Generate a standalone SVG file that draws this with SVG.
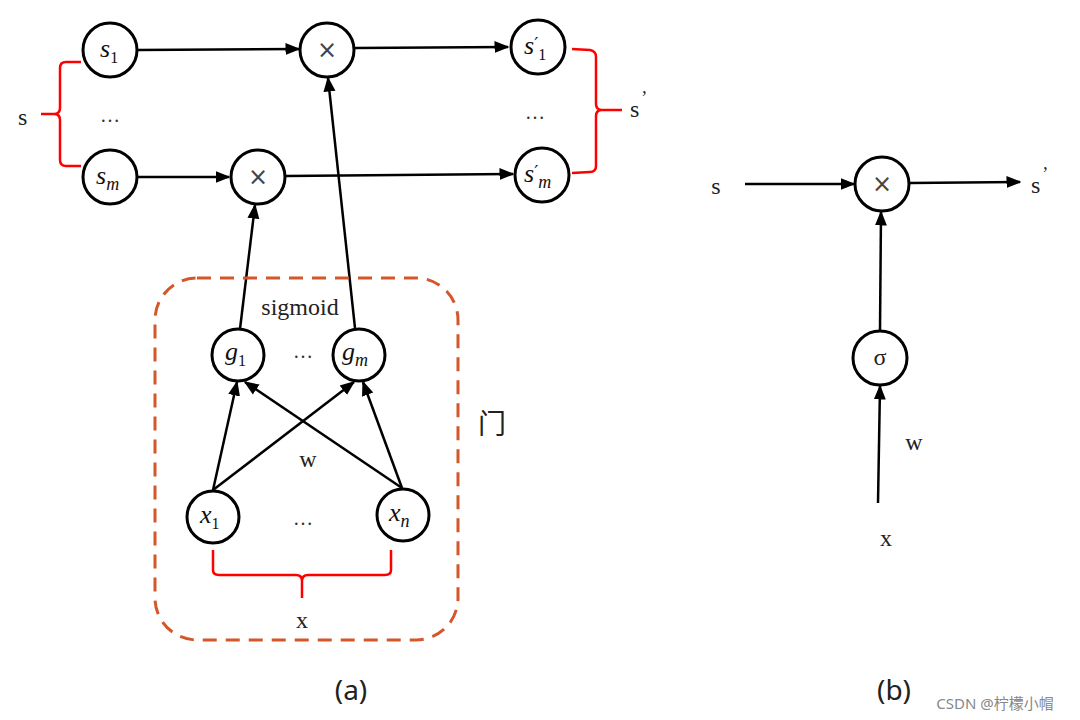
<svg xmlns="http://www.w3.org/2000/svg" width="1080" height="720" viewBox="0 0 1080 720">
<style>
.node{fill:#fff;stroke:#000;stroke-width:3}
.edge{stroke:#000;stroke-width:2.5;fill:none}
.brace{stroke:#f00;stroke-width:2.5;fill:none}
.m{font-family:"Liberation Serif",serif;font-style:italic;font-size:26px;fill:#111}
.ms{font-family:"Liberation Serif",serif;font-style:italic;font-size:18px;fill:#111}
.sub{font-family:"Liberation Serif",serif;font-style:normal;font-size:16px;fill:#111}
.pr{font-family:"DejaVu Sans",sans-serif;font-style:normal;font-size:18px;fill:#111}
.t{font-family:"Liberation Serif",serif;font-size:24px;fill:#222}
.x{font-family:"DejaVu Sans",sans-serif;font-size:24px;fill:#444}
.dots{font-family:"Liberation Serif",serif;font-size:20px;fill:#333}
.cap{font-family:"Noto Sans","DejaVu Sans",sans-serif;font-size:28px;fill:#222}
</style>
<defs>
<marker id="ah" viewBox="0 0 10 10" refX="9" refY="5" markerWidth="6" markerHeight="6" orient="auto" markerUnits="strokeWidth">
<path d="M0,1 L10,5 L0,9 z" fill="#000"/>
</marker>
</defs>
<rect width="1080" height="720" fill="#fff"/>
<g id="connectors">
<line class="edge" x1="138" y1="50" x2="299" y2="49" marker-end="url(#ah)"/>
<line class="edge" x1="355" y1="48" x2="508" y2="47" marker-end="url(#ah)"/>
<line class="edge" x1="138" y1="177" x2="229" y2="177" marker-end="url(#ah)"/>
<line class="edge" x1="286" y1="176" x2="513" y2="174" marker-end="url(#ah)"/>
<line class="edge" x1="355" y1="328" x2="328" y2="78" marker-end="url(#ah)"/>
<line class="edge" x1="240" y1="329" x2="255" y2="205" marker-end="url(#ah)"/>
<line class="edge" x1="213" y1="490" x2="237" y2="382" marker-end="url(#ah)"/>
<line class="edge" x1="213" y1="490" x2="354" y2="382" marker-end="url(#ah)"/>
<line class="edge" x1="402" y1="488" x2="245" y2="382" marker-end="url(#ah)"/>
<line class="edge" x1="402" y1="488" x2="363" y2="382" marker-end="url(#ah)"/>
<line class="edge" x1="745" y1="184" x2="854" y2="184" marker-end="url(#ah)"/>
<line class="edge" x1="910" y1="183" x2="1020" y2="182" marker-end="url(#ah)"/>
<line class="edge" x1="880" y1="331" x2="881" y2="212" marker-end="url(#ah)"/>
<line class="edge" x1="878" y1="503" x2="880" y2="386" marker-end="url(#ah)"/>
</g>
<g id="gate-box">
<rect x="155" y="278" width="303" height="362" rx="42" fill="none" stroke="#d4572a" stroke-width="3" stroke-dasharray="14 9"/>
</g>
<g id="braces">
<path class="brace" d="M81,62 L66,62 Q60,62 60,68 L60,108 Q60,114 54,114 L41,114 M54,114 Q60,114 60,120 L60,160 Q60,166 66,166 L81,166"/>
<path class="brace" d="M572,49 L590,50 Q596,51 596,57 L596,104 Q596,110 602,110 L622,110 M602,110 Q596,110 596,116 L596,166 Q596,172 590,172 L572,173"/>
<path class="brace" d="M213,550 L213,570 Q213,575 219,575 L296,575 Q302,575 302,581 L302,598 M302,581 Q302,575 308,575 L385,575 Q391,575 391,570 L391,550"/>
</g>
<g id="s1"><circle class="node" cx="110" cy="50" r="27"/><text class="m" x="100" y="57">s<tspan class="sub" dy="6">1</tspan></text></g>
<g id="sm"><circle class="node" cx="110" cy="177" r="27"/><text class="m" x="96" y="184">s<tspan class="ms" dy="6">m</tspan></text></g>
<g id="mul-top"><circle class="node" cx="327" cy="50" r="27"/><text class="x" x="327" y="58" text-anchor="middle">×</text></g>
<g id="mul-bottom"><circle class="node" cx="258" cy="177" r="27"/><text class="x" x="258" y="185" text-anchor="middle">×</text></g>
<g id="s1p"><circle class="node" cx="538" cy="47" r="27"/><text class="m" x="524" y="54">s<tspan class="pr" dy="-4">′</tspan><tspan class="sub" dy="10">1</tspan></text></g>
<g id="smp"><circle class="node" cx="542" cy="175" r="27"/><text class="m" x="524" y="182">s<tspan class="pr" dy="-4">′</tspan><tspan class="ms" dy="10">m</tspan></text></g>
<g id="g1"><circle class="node" cx="238" cy="355" r="26"/><text class="m" x="225" y="360">g<tspan class="sub" dy="6">1</tspan></text></g>
<g id="gm"><circle class="node" cx="359" cy="355" r="26"/><text class="m" x="342" y="360">g<tspan class="ms" dy="6">m</tspan></text></g>
<g id="x1"><circle class="node" cx="213" cy="517" r="26"/><text class="m" x="200" y="523">x<tspan class="sub" dy="6">1</tspan></text></g>
<g id="xn"><circle class="node" cx="403" cy="515" r="26"/><text class="m" x="389" y="521">x<tspan class="ms" dy="6">n</tspan></text></g>
<g id="mul-b"><circle class="node" cx="882" cy="184" r="27"/><text class="x" x="882" y="192" text-anchor="middle">×</text></g>
<g id="sigma"><circle class="node" cx="880" cy="358" r="27"/><text class="t" x="880" y="365" font-size="20" text-anchor="middle">σ</text></g>
<g id="labels">
<text class="t" x="18" y="125" font-size="28">s</text>
<text class="t" x="630" y="117" font-size="28">s<tspan font-size="18" dx="2" dy="-13">’</tspan></text>
<text class="dots" x="110" y="122" text-anchor="middle">…</text>
<text class="dots" x="535" y="119" text-anchor="middle">…</text>
<text class="t" x="300" y="315" text-anchor="middle">sigmoid</text>
<text class="dots" x="303" y="358" text-anchor="middle">…</text>
<text class="t" x="308" y="467" text-anchor="middle">w</text>
<text class="dots" x="303" y="525" text-anchor="middle">…</text>
<text class="t" x="302" y="628" text-anchor="middle" font-size="28">x</text>
<text x="492" y="434" font-family="Noto Sans CJK SC,sans-serif" font-size="28" fill="#222" text-anchor="middle">门</text>
<text class="cap" x="351" y="700" text-anchor="middle">(a)</text>
<text class="cap" x="894" y="700" text-anchor="middle">(b)</text>
<text class="t" x="716" y="194" text-anchor="middle" font-size="28">s</text>
<text class="t" x="1031" y="193" font-size="28">s<tspan font-size="18" dx="2" dy="-13">’</tspan></text>
<text class="t" x="914" y="450" text-anchor="middle">w</text>
<text class="t" x="886" y="546" text-anchor="middle" font-size="28">x</text>
<text x="995" y="709" font-family="Noto Sans,Noto Sans CJK SC,sans-serif" font-size="15" fill="#888" text-anchor="middle">CSDN @柠檬小帽</text>
</g>
</svg>
